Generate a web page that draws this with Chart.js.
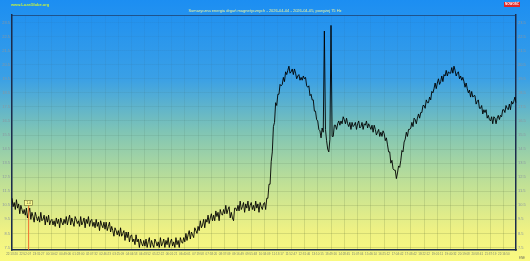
<!DOCTYPE html>
<html>
<head>
<meta charset="utf-8">
<script src="https://cdn.jsdelivr.net/npm/chart.js@4.4.1/dist/chart.umd.min.js"></script>
<style>
    html, body { margin: 0; padding: 0; background: #fff; }
    canvas { display: block; }
</style>
</head>
<body>
<canvas id="chart" width="530" height="261"></canvas>
<script>
const chartTitle = 'Sumaryczna energia drgań magnetycznych - 2026-04-04 - 2026-04-05, powyżej 75 Hz';
const siteText = 'www.LozaGlobe.org';
const badgeText = 'NOWOŚĆ';
const cornerText = 'ENE';

// one label every 12 samples
const pointsPerLabel = 12;
const timeLabels = [
    '22:13:20', '22:52:07', '23:31:27', '00:10:02', '00:49:06', '01:28:00', '02:07:32', '02:46:23',
    '03:25:09', '04:04:53', '04:43:52', '05:22:22', '06:01:21', '06:40:01', '07:19:58', '07:58:20',
    '08:37:09', '09:16:49', '09:55:48', '10:34:09', '11:13:17', '11:52:47', '12:31:46', '13:10:15',
    '13:49:16', '14:28:45', '15:07:04', '15:46:14', '16:25:12', '17:04:42', '17:43:42', '18:22:12',
    '19:01:11', '19:40:32', '20:19:08', '20:58:41', '21:37:19', '22:16:50'
];

const yTicks = [7.5, 8, 8.5, 9, 9.5, 10, 10.5, 11, 11.5, 12, 12.5, 13, 13.5, 14, 14.5, 15, 15.5,
    16, 16.5, 17, 17.5, 18, 18.5, 19, 19.5, 20, 20.5, 21, 21.5, 22, 22.5, 23, 23.5, 24];

const energy = [
    11.0, 10.4, 10.7, 10.2, 10.9, 10.3, 10.6, 9.9, 10.5, 10.2, 9.9, 10.2,
    9.8, 10.3, 9.6, 10.0, 10.3, 9.5, 10.0, 9.7, 9.3, 10.0, 9.7, 9.4,
    9.7, 9.3, 10.0, 9.4, 9.5, 9.8, 9.1, 9.7, 9.3, 9.8, 9.1, 9.4,
    9.5, 9.1, 9.4, 9.0, 9.6, 9.2, 9.5, 8.9, 9.6, 9.3, 9.1, 9.5,
    9.2, 9.7, 9.1, 9.5, 9.8, 9.1, 9.6, 9.3, 9.0, 9.7, 9.5, 9.2,
    9.4, 9.0, 9.7, 9.1, 9.3, 9.6, 8.9, 9.5, 9.2, 9.7, 9.0, 9.4,
    9.5, 9.0, 9.3, 8.9, 9.5, 9.0, 9.3, 8.7, 9.4, 9.1, 8.9, 9.3,
    8.8, 9.3, 8.7, 9.0, 9.3, 8.6, 9.0, 8.7, 8.3, 8.9, 8.7, 8.4,
    8.7, 8.3, 8.9, 8.3, 8.5, 8.7, 8.0, 8.6, 8.2, 8.6, 7.9, 8.3,
    8.4, 7.9, 8.1, 7.7, 8.4, 7.9, 8.1, 7.5, 8.1, 7.8, 7.6, 8.0,
    7.6, 8.1, 7.5, 7.9, 8.2, 7.5, 8.0, 7.7, 7.5, 8.1, 7.9, 7.6,
    7.9, 7.5, 8.2, 7.6, 7.8, 8.1, 7.5, 8.0, 7.7, 8.2, 7.5, 7.9,
    8.1, 7.6, 7.9, 7.5, 8.2, 7.7, 8.0, 7.5, 8.2, 7.9, 7.8, 8.2,
    7.9, 8.5, 8.0, 8.4, 8.7, 8.1, 8.6, 8.4, 8.2, 8.9, 8.7, 8.5,
    9.0, 8.7, 9.4, 8.9, 9.1, 9.5, 8.9, 9.5, 9.3, 9.8, 9.2, 9.6,
    9.9, 9.4, 9.8, 9.4, 10.1, 9.7, 10.0, 9.4, 10.2, 9.9, 9.8, 10.2,
    9.9, 10.5, 9.9, 10.2, 10.4, 9.6, 10.0, 9.6, 9.4, 10.3, 10.3, 10.1,
    10.5, 10.1, 10.8, 10.2, 10.4, 10.7, 10.0, 10.6, 10.3, 10.8, 10.1, 10.5,
    10.7, 10.2, 10.5, 10.1, 10.8, 10.3, 10.6, 10.0, 10.7, 10.4, 10.2, 10.6,
    10.7, 10.2, 11.0, 11.0, 12.0, 12.0, 13.6, 14.3, 16.1, 16.4, 17.8, 17.6,
    18.4, 18.4, 19.1, 19.0, 19.1, 19.6, 19.3, 20.0, 19.8, 20.1, 20.4, 19.9,
    20.0, 20.2, 19.8, 20.2, 19.9, 19.5, 19.7, 19.8, 19.4, 19.6, 19.4, 19.7,
    19.5, 19.6, 19.0, 18.9, 19.0, 18.3, 18.4, 18.0, 18.0, 17.2, 17.2, 16.6,
    16.5, 15.9, 15.8, 15.3, 16.0, 15.7, 22.9, 15.9, 15.1, 14.5, 14.3, 15.2,
    23.3, 15.4, 15.4, 16.2, 16.2, 15.9, 16.3, 16.5, 16.2, 16.5, 16.3, 16.8,
    16.6, 16.3, 16.7, 16.3, 16.1, 16.4, 15.9, 16.4, 16.1, 16.2, 16.4, 15.9,
    16.3, 16.5, 16.0, 16.1, 16.4, 15.9, 16.3, 16.2, 16.5, 16.0, 16.3, 16.1,
    15.9, 16.2, 15.7, 16.2, 15.9, 15.5, 15.7, 15.9, 15.4, 15.7, 15.4, 15.8,
    15.6, 15.1, 15.3, 14.8, 14.3, 14.3, 13.5, 13.7, 13.1, 13.0, 13.0, 12.4,
    12.8, 13.3, 13.2, 13.7, 14.4, 14.3, 15.0, 15.2, 15.7, 15.4, 15.9, 15.9,
    16.0, 16.4, 16.1, 16.7, 16.6, 16.3, 16.7, 17.0, 16.7, 17.1, 17.1, 17.6,
    17.6, 17.4, 18.0, 17.8, 17.8, 18.2, 18.0, 18.6, 18.5, 18.8, 19.2, 18.8,
    19.2, 19.5, 19.1, 19.3, 19.7, 19.3, 19.8, 19.7, 20.1, 19.7, 20.0, 19.9,
    19.9, 20.3, 19.9, 20.4, 20.1, 19.7, 19.9, 20.0, 19.5, 19.7, 19.4, 19.6,
    19.3, 18.9, 19.2, 18.8, 18.5, 18.7, 18.2, 18.6, 18.2, 18.3, 18.3, 17.7,
    17.9, 18.0, 17.4, 17.4, 17.6, 17.0, 17.3, 17.1, 17.3, 16.7, 16.9, 16.6,
    16.5, 16.8, 16.3, 16.8, 16.7, 16.3, 16.7, 16.9, 16.6, 16.9, 16.8, 17.3,
    17.3, 17.1, 17.6, 17.4, 17.3, 17.7, 17.3, 17.9, 17.7, 17.9, 18.2, 17.8
];

// marker near the start
const markerIndex = 15;
const markerValue = 10.5;
const markerText = '1.4';

const yMin = 7.32;
const yMax = 24.04;

const fontFamily = '"Liberation Sans", Arial, sans-serif';
const tickColor = '#8a96a0';
const axisColor = '#1c2c4c';

const ctx = document.getElementById('chart').getContext('2d');

// grid lines fade out over the blue part
const gridColor = ctx.createLinearGradient(0, 0, 0, 261);
gridColor.addColorStop(0, 'rgba(40, 90, 150, 0.12)');
gridColor.addColorStop(0.5, 'rgba(70, 110, 90, 0.2)');
gridColor.addColorStop(1, 'rgba(100, 110, 40, 0.35)');

const backgroundPlugin = {
    id: 'background',
    beforeDraw(chart) {
        const { ctx, width, height } = chart;
        const grad = ctx.createLinearGradient(0, 0, 0, height);
        grad.addColorStop(0, '#1c8ef2');
        grad.addColorStop(0.3, '#3aa0e6');
        grad.addColorStop(0.5, '#7ec4b6');
        grad.addColorStop(0.7, '#bfe096');
        grad.addColorStop(0.88, '#eef184');
        grad.addColorStop(1, '#fafa80');
        ctx.save();
        ctx.fillStyle = grad;
        ctx.fillRect(0, 0, width, height);
        ctx.restore();
    }
};

const decorPlugin = {
    id: 'decor',
    afterDraw(chart) {
        const { ctx, chartArea } = chart;
        const xScale = chart.scales.x;
        const yScale = chart.scales.y;
        ctx.save();

        // top frame line
        ctx.strokeStyle = 'rgba(28, 44, 76, 0.6)';
        ctx.lineWidth = 1;
        ctx.beginPath();
        ctx.moveTo(chartArea.left, chartArea.top + 0.5);
        ctx.lineTo(chartArea.right, chartArea.top + 0.5);
        ctx.stroke();

        // marker line and box
        const mx = xScale.getPixelForValue(markerIndex);
        const my = yScale.getPixelForValue(markerValue);
        ctx.strokeStyle = '#f07030';
        ctx.lineWidth = 1;
        ctx.beginPath();
        ctx.moveTo(mx, my);
        ctx.lineTo(mx, chartArea.bottom);
        ctx.stroke();
        ctx.fillStyle = '#fafa90';
        ctx.strokeStyle = '#6a6a30';
        ctx.lineWidth = 0.6;
        ctx.fillRect(mx - 4, my - 5, 8, 5);
        ctx.strokeRect(mx - 4, my - 5, 8, 5);
        ctx.fillStyle = '#404020';
        ctx.font = '3px ' + fontFamily;
        ctx.textAlign = 'center';
        ctx.textBaseline = 'middle';
        ctx.fillText(markerText, mx, my - 2.5);

        // site name
        ctx.fillStyle = '#c4f040';
        ctx.font = 'bold 4px ' + fontFamily;
        ctx.textAlign = 'left';
        ctx.fillText(siteText, 11, 4.5);

        // badge
        ctx.fillStyle = '#e02828';
        ctx.fillRect(504, 2, 16, 5);
        ctx.fillStyle = '#ffffff';
        ctx.font = 'bold 3px ' + fontFamily;
        ctx.textAlign = 'center';
        ctx.fillText(badgeText, 512, 4.6);

        // corner text
        ctx.fillStyle = '#707060';
        ctx.font = '3px ' + fontFamily;
        ctx.fillText(cornerText, 522, 258);
        ctx.restore();
    }
};

const yAxis = (position, width, showGrid) => ({
    type: 'linear',
    position,
    min: yMin,
    max: yMax,
    afterBuildTicks(scale) {
        scale.ticks = yTicks.map(v => ({ value: v }));
    },
    afterFit(scale) {
        scale.width = width;
    },
    grid: { display: showGrid, color: gridColor, lineWidth: 0.6, drawTicks: false },
    border: { display: true, color: axisColor, width: 1.5 },
    ticks: {
        color: tickColor,
        padding: 2,
        font: { family: fontFamily, size: 4 },
        callback: v => String(v)
    }
});

new Chart(ctx, {
    type: 'line',
    data: {
        labels: energy.map((v, i) => i),
        datasets: [{
            data: energy,
            borderColor: '#000000',
            borderWidth: 0.9,
            pointRadius: 0,
            tension: 0,
            fill: false
        }]
    },
    options: {
        responsive: false,
        animation: false,
        layout: { padding: 0 },
        plugins: {
            legend: { display: false },
            tooltip: { enabled: false },
            title: {
                display: true,
                text: chartTitle,
                color: '#eaf2a0',
                font: { family: fontFamily, size: 4, weight: 'normal' },
                padding: { top: 8, bottom: 2.2 }
            }
        },
        scales: {
            x: {
                type: 'category',
                afterFit(scale) {
                    scale.height = 11;
                },
                grid: { color: gridColor, lineWidth: 0.6, drawTicks: false },
                border: { display: true, color: axisColor, width: 1.5 },
                ticks: {
                    autoSkip: false,
                    maxRotation: 0,
                    padding: 2,
                    color: '#7d8670',
                    font: { family: fontFamily, size: 3 },
                    callback(value, index) {
                        return index % pointsPerLabel === 0 ? timeLabels[index / pointsPerLabel] : null;
                    }
                }
            },
            y: yAxis('left', 12, true),
            y2: yAxis('right', 14, false)
        }
    },
    plugins: [backgroundPlugin, decorPlugin]
});
</script>
</body>
</html>
